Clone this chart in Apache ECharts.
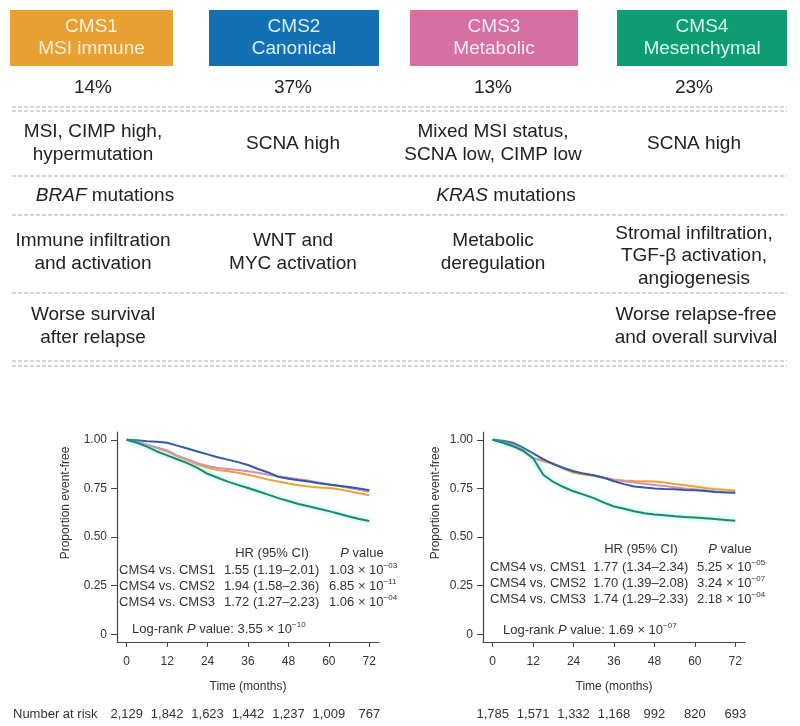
<!DOCTYPE html>
<html>
<head>
<meta charset="utf-8">
<script src="https://cdn.jsdelivr.net/npm/echarts@6/dist/echarts.min.js"></script>
<style>html,body{margin:0;padding:0;background:#fff}#chart{width:800px;height:726px}</style>
</head>
<body>
<div id="chart"></div>
<script>
// ---------- DATA ----------
const subtypes = ['CMS1', 'CMS2', 'CMS3', 'CMS4'];
const subtypeNames = ['MSI immune', 'Canonical', 'Metabolic', 'Mesenchymal'];
const prevalence = ['14%', '37%', '13%', '23%'];
const rowGenomic = ['MSI, CIMP high,\nhypermutation', 'SCNA high', 'Mixed MSI status,\nSCNA low, CIMP low', 'SCNA high'];
const rowMutation = ['BRAF', '', 'KRAS', ''];
const rowBiology = ['Immune infiltration\nand activation', 'WNT and\nMYC activation', 'Metabolic\nderegulation', 'Stromal infiltration,\nTGF-\u03b2 activation,\nangiogenesis'];
const rowSurvival = ['Worse survival\nafter relapse', '', '', 'Worse relapse-free\nand overall survival'];

const months = [0, 3, 6, 9, 12, 15, 18, 21, 24, 27, 30, 33, 36, 39, 42, 45, 48, 51, 54, 57, 60, 63, 66, 69, 72];
const xTicks = [0, 12, 24, 36, 48, 60, 72];
const yTicks = [0, 0.25, 0.5, 0.75, 1];

// Left panel (relapse-free)
const leftCMS1 = [1.0, 0.99, 0.975, 0.958, 0.94, 0.915, 0.895, 0.872, 0.856, 0.845, 0.838, 0.83, 0.82, 0.808, 0.795, 0.785, 0.775, 0.766, 0.76, 0.755, 0.752, 0.745, 0.735, 0.725, 0.715];
const leftCMS2 = [1.0, 0.998, 0.993, 0.99, 0.985, 0.97, 0.955, 0.94, 0.925, 0.91, 0.898, 0.885, 0.87, 0.85, 0.832, 0.81, 0.8, 0.792, 0.785, 0.776, 0.77, 0.763, 0.757, 0.75, 0.74];
const leftCMS3 = [1.0, 0.99, 0.975, 0.96, 0.945, 0.918, 0.9, 0.88, 0.865, 0.855, 0.85, 0.845, 0.838, 0.83, 0.82, 0.812, 0.805, 0.797, 0.79, 0.78, 0.77, 0.762, 0.752, 0.743, 0.733];
const leftCMS4 = [1.0, 0.985, 0.965, 0.94, 0.92, 0.9, 0.88, 0.855, 0.825, 0.805, 0.785, 0.768, 0.752, 0.735, 0.718, 0.7, 0.685, 0.67, 0.658, 0.645, 0.633, 0.62, 0.605, 0.593, 0.582];
// Right panel
const rightCMS1 = [1.0, 0.99, 0.968, 0.94, 0.905, 0.89, 0.876, 0.852, 0.83, 0.822, 0.815, 0.805, 0.795, 0.79, 0.788, 0.787, 0.785, 0.78, 0.772, 0.766, 0.76, 0.752, 0.747, 0.743, 0.739];
const rightCMS2 = [1.0, 0.995, 0.985, 0.96, 0.93, 0.9, 0.875, 0.855, 0.838, 0.826, 0.818, 0.805, 0.787, 0.772, 0.76, 0.754, 0.75, 0.747, 0.745, 0.742, 0.74, 0.736, 0.732, 0.729, 0.727];
const rightCMS3 = [1.0, 0.99, 0.975, 0.945, 0.905, 0.895, 0.878, 0.855, 0.838, 0.826, 0.815, 0.805, 0.795, 0.787, 0.78, 0.774, 0.768, 0.762, 0.756, 0.75, 0.745, 0.74, 0.735, 0.732, 0.73];
const rightCMS4 = [1.0, 0.985, 0.967, 0.945, 0.905, 0.82, 0.783, 0.757, 0.735, 0.718, 0.7, 0.677, 0.657, 0.645, 0.632, 0.622, 0.616, 0.612, 0.607, 0.603, 0.6, 0.597, 0.592, 0.588, 0.584];

const riskLeft = ['2,129', '1,842', '1,623', '1,442', '1,237', '1,009', '767'];
const riskRight = ['1,785', '1,571', '1,332', '1,168', '992', '820', '693'];

const hrLabels = ['CMS4 vs. CMS1', 'CMS4 vs. CMS2', 'CMS4 vs. CMS3'];
const hrLeft = ['1.55 (1.19\u20132.01)', '1.94 (1.58\u20132.36)', '1.72 (1.27\u20132.23)'];
const pLeftMant = ['1.03', '6.85', '1.06'];
const pLeftExp = ['\u221203', '\u221211', '\u221204'];
const hrRight = ['1.77 (1.34\u20132.34)', '1.70 (1.39\u20132.08)', '1.74 (1.29\u20132.33)'];
const pRightMant = ['5.25', '3.24', '2.18'];
const pRightExp = ['\u221205', '\u221207', '\u221204'];
const logrankLeft = ['3.55', '\u221210'];
const logrankRight = ['1.69', '\u221207'];

// ---------- STYLE ----------
const FONT = '"Liberation Sans", Arial, Helvetica, sans-serif';
const boxColors = ['#E9A033', '#1370B3', '#D670A3', '#0E9C74'];
const boxTextColors = ['#fdf1dc', '#d9f1ff', '#fde9f3', '#d6fbe9'];
const lineColors = { CMS1: '#E8A535', CMS2: '#2F5BA3', CMS3: '#D88BB6', CMS4: '#1B8A69' };
const boxX = [[10, 173], [209, 379], [410, 578], [617, 787]];
const colCenter = [93, 293, 493, 694];
const TXT = '#222';

const graphic = [];
function txt(text, x, y, o) {
  o = o || {};
  graphic.push({
    type: 'text', silent: true, rotation: o.rotation || 0, x: x, y: y,
    style: Object.assign({
      text: text, x: 0, y: 0, fill: o.fill || TXT,
      fontSize: o.fontSize || 19, fontFamily: FONT,
      align: o.align || 'center', verticalAlign: 'middle',
      lineHeight: o.lineHeight || 23, rich: o.rich
    }, o.extra || {})
  });
}
function dash(y) {
  graphic.push({ type: 'line', silent: true, shape: { x1: 12, y1: y, x2: 787, y2: y },
    style: { stroke: '#aaaaaa', lineWidth: 1, lineDash: [4, 2] } });
}

// header boxes
subtypes.forEach((s, i) => {
  const [a, b] = boxX[i];
  graphic.push({ type: 'rect', silent: true, shape: { x: a, y: 10, width: b - a, height: 56 }, style: { fill: boxColors[i] } });
  txt(s + '\n' + subtypeNames[i], (a + b) / 2, 38, { fill: boxTextColors[i], fontSize: 19, lineHeight: 22 });
  txt(prevalence[i], colCenter[i], 88, { fontSize: 19 });
});
// rules
[107, 111, 176, 215, 293, 361, 366].forEach(dash);
// rows
rowGenomic.forEach((t, i) => { if (t) txt(t, colCenter[i], 143.5); });
const mutX = [105, 0, 506, 0];
rowMutation.forEach((t, i) => {
  if (t) txt('{i|' + t + '} mutations', mutX[i], 196, {
    rich: { i: { fontStyle: 'italic', fontSize: 19, fontFamily: FONT, fill: TXT } }
  });
});
rowBiology.forEach((t, i) => { if (t) txt(t, colCenter[i] + (i === 2 ? 0 : 0), i === 3 ? 256 : 252.5, { lineHeight: i === 3 ? 22.5 : 23 }); });
rowSurvival.forEach((t, i) => { if (t) txt(t, colCenter[i] + (i === 3 ? 2 : 0), 326.5); });

// KM annotations
const small = 13;
const rich = {
  s: { fontSize: 8, fontFamily: FONT, fill: '#333', verticalAlign: 'top', lineHeight: 10 },
  i: { fontStyle: 'italic', fontSize: small, fontFamily: FONT, fill: '#333' }
};
function annot(x0, xHR, xP, hdrY, rowY, hrs, mant, exps, lrX, lrY, lr) {
  txt('HR (95% CI)', xHR + 48, hdrY, { fontSize: small, fill: '#333', lineHeight: 16 });
  txt('{i|P} value', xP + 33, hdrY, { fontSize: small, fill: '#333', lineHeight: 16, rich: rich });
  hrLabels.forEach((l, k) => {
    const y = rowY + k * 16;
    txt(l, x0, y, { fontSize: small, fill: '#333', align: 'left', lineHeight: 16 });
    txt(hrs[k], xHR, y, { fontSize: small, fill: '#333', align: 'left', lineHeight: 16 });
    txt(mant[k] + ' \u00d7 10{s|' + exps[k] + '}', xP, y, { fontSize: small, fill: '#333', align: 'left', lineHeight: 16, rich: rich });
  });
  txt('Log-rank {i|P} value: ' + lr[0] + ' \u00d7 10{s|' + lr[1] + '}', lrX, lrY, { fontSize: small, fill: '#333', align: 'left', lineHeight: 16, rich: rich });
}
annot(119, 224, 329, 553, 570, hrLeft, pLeftMant, pLeftExp, 132, 629, logrankLeft);
annot(490, 593, 697, 549, 567, hrRight, pRightMant, pRightExp, 503, 630, logrankRight);

txt('Proportion event-free', 66, 503, { fontSize: 12, fill: '#333', rotation: Math.PI / 2, lineHeight: 14 });
txt('Proportion event-free', 436, 503, { fontSize: 12, fill: '#333', rotation: Math.PI / 2, lineHeight: 14 });
txt('Number at risk', 13, 714, { fontSize: 13, fill: '#333', align: 'left', lineHeight: 16 });

// ---------- AXES ----------
const axColor = '#444';
function mainX(g) {
  return {
    gridIndex: g, type: 'value', min: -2.88, max: 74.88,
    axisLine: { show: true, onZero: false, lineStyle: { color: axColor, width: 1.2 } },
    axisTick: { show: true, length: 5, customValues: xTicks, lineStyle: { color: axColor } },
    axisLabel: { customValues: xTicks, margin: 14, fontSize: 12, color: '#333', fontFamily: FONT },
    splitLine: { show: false },
    name: 'Time (months)', nameLocation: 'middle', nameGap: 39,
    nameTextStyle: { fontSize: 12, color: '#333', fontFamily: FONT }
  };
}
function riskX(g, arr) {
  return {
    gridIndex: g, type: 'value', min: -2.88, max: 74.88, position: 'bottom', offset: 60,
    axisLine: { show: false }, axisTick: { show: false }, splitLine: { show: false },
    axisLabel: { customValues: xTicks, margin: 6, fontSize: 13, color: '#333', fontFamily: FONT,
      formatter: v => arr[xTicks.indexOf(v)] }
  };
}
function mainY(g) {
  return {
    gridIndex: g, type: 'value', min: -0.04, max: 1.04,
    axisLine: { show: true, onZero: false, lineStyle: { color: axColor, width: 1.2 } },
    axisTick: { show: true, length: 6, customValues: yTicks, lineStyle: { color: axColor } },
    axisLabel: { customValues: yTicks, margin: 10, fontSize: 12, color: '#333', fontFamily: FONT,
      formatter: v => v === 0 ? '0' : v.toFixed(2) },
    splitLine: { show: false }
  };
}
function km(name, vals, axisIdx) {
  const green = name === 'CMS4';
  return {
    type: 'line', name: name, xAxisIndex: axisIdx, yAxisIndex: axisIdx === 0 ? 0 : 1,
    data: months.map((m, i) => [m, vals[i]]), showSymbol: false, symbol: 'none', smooth: false,
    lineStyle: Object.assign({ color: lineColors[name], width: 2 },
      green ? { shadowColor: 'rgba(120,230,230,0.9)', shadowBlur: 4 } : {}),
    z: green ? 3 : 2, silent: true
  };
}

const chart = echarts.init(document.getElementById('chart'), null, { renderer: 'canvas' });
chart.setOption({
  animation: false,
  backgroundColor: '#fff',
  grid: [
    { left: 117, top: 432, width: 262, height: 210 },
    { left: 483, top: 432, width: 262, height: 210 }
  ],
  xAxis: [mainX(0), mainX(1), riskX(0, riskLeft), riskX(1, riskRight)],
  yAxis: [mainY(0), mainY(1)],
  series: [
    km('CMS1', leftCMS1, 0), km('CMS3', leftCMS3, 0), km('CMS2', leftCMS2, 0), km('CMS4', leftCMS4, 0),
    km('CMS1', rightCMS1, 1), km('CMS3', rightCMS3, 1), km('CMS2', rightCMS2, 1), km('CMS4', rightCMS4, 1)
  ],
  graphic: graphic
});
</script>
</body>
</html>
